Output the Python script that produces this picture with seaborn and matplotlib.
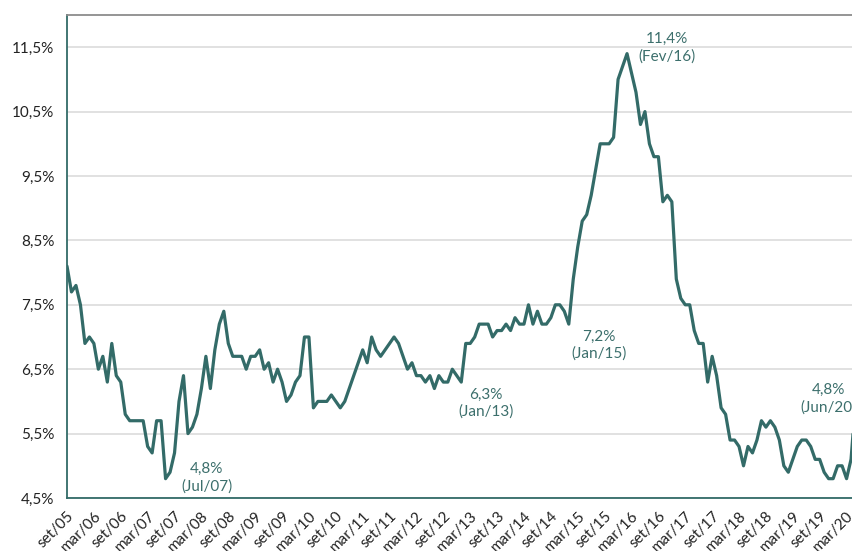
import numpy as np
import pandas as pd
import seaborn as sns
import matplotlib
matplotlib.use("Agg")
import matplotlib.pyplot as plt
from matplotlib.ticker import FuncFormatter

# monthly series, set/05 .. jun/20 (percent)
taxa = [
    8.1, 7.7, 7.8, 7.5, 6.9, 7.0, 6.9, 6.5, 6.7, 6.3,   # set/05 - jun/06
    6.9, 6.4, 6.3, 5.8, 5.7, 5.7, 5.7, 5.7, 5.3, 5.2,   # jul/06 - abr/07
    5.7, 5.7, 4.8, 4.9, 5.2, 6.0, 6.4, 5.5, 5.6, 5.8,   # mai/07 - fev/08
    6.2, 6.7, 6.2, 6.8, 7.2, 7.4, 6.9, 6.7, 6.7, 6.7,   # mar/08 - dez/08
    6.5, 6.7, 6.7, 6.8, 6.5, 6.6, 6.3, 6.5, 6.3, 6.0,   # jan/09 - out/09
    6.1, 6.3, 6.4, 7.0, 7.0, 5.9, 6.0, 6.0, 6.0, 6.1,   # nov/09 - ago/10
    6.0, 5.9, 6.0, 6.2, 6.4, 6.6, 6.8, 6.6, 7.0, 6.8,   # set/10 - jun/11
    6.7, 6.8, 6.9, 7.0, 6.9, 6.7, 6.5, 6.6, 6.4, 6.4,   # jul/11 - abr/12
    6.3, 6.4, 6.2, 6.4, 6.3, 6.3, 6.5, 6.4, 6.3, 6.9,   # mai/12 - fev/13
    6.9, 7.0, 7.2, 7.2, 7.2, 7.0, 7.1, 7.1, 7.2, 7.1,   # mar/13 - dez/13
    7.3, 7.2, 7.2, 7.5, 7.2, 7.4, 7.2, 7.2, 7.3, 7.5,   # jan/14 - out/14
    7.5, 7.4, 7.2, 7.9, 8.4, 8.8, 8.9, 9.2, 9.6, 10.0,  # nov/14 - ago/15
    10.0, 10.0, 10.1, 11.0, 11.2, 11.4, 11.1, 10.8, 10.3, 10.5,  # set/15 - jun/16
    10.0, 9.8, 9.8, 9.1, 9.2, 9.1, 7.9, 7.6, 7.5, 7.5,  # jul/16 - abr/17
    7.1, 6.9, 6.9, 6.3, 6.7, 6.4, 5.9, 5.8, 5.4, 5.4,   # mai/17 - fev/18
    5.3, 5.0, 5.3, 5.2, 5.4, 5.7, 5.6, 5.7, 5.6, 5.4,   # mar/18 - dez/18
    5.0, 4.9, 5.1, 5.3, 5.4, 5.4, 5.3, 5.1, 5.1, 4.9,   # jan/19 - out/19
    4.8, 4.8, 5.0, 5.0, 4.8, 5.1, 6.0, 4.8,             # nov/19 - jun/20
]
tick_labels = [
    "set/05", "mar/06", "set/06", "mar/07", "set/07", "mar/08", "set/08",
    "mar/09", "set/09", "mar/10", "set/10", "mar/11", "set/11", "mar/12",
    "set/12", "mar/13", "set/13", "mar/14", "set/14", "mar/15", "set/15",
    "mar/16", "set/16", "mar/17", "set/17", "mar/18", "set/18", "mar/19",
    "set/19", "mar/20",
]

destaques = [  # (month index, label, offset in px)
    (22, "4,8%\n(Jul/07)", (41, 1)),
    (88, "6,3%\n(Jan/13)", (25, -21)),
    (112, "7,2%\n(Jan/15)", (30, -21)),
    (125, "11,4%\n(Fev/16)", (40, 6)),
    (177, "4,8%\n(Jun/20)", (-32, 80)),
]

df = pd.DataFrame({"mes": np.arange(len(taxa)), "taxa": taxa})

sns.set_style("white")
plt.rcParams["font.family"] = ["Lato", "DejaVu Sans"]

cor = "#336B68"
fig = plt.figure(figsize=(8.52, 5.51), dpi=100)
# plot area runs past the right edge, like the cropped original
ax = fig.add_axes([67 / 852, 53 / 551, 793 / 852, 483 / 551])

sns.lineplot(data=df, x="mes", y="taxa", ax=ax, color=cor, linewidth=2.3)

ax.set_xlim(0, 177)
ax.set_ylim(4.5, 12.0)
ax.set_yticks(np.arange(4.5, 12.0, 1.0))
ax.yaxis.set_major_formatter(FuncFormatter(lambda v, p: f"{v:.1f}%".replace(".", ",")))
ax.set_xticks(np.arange(len(tick_labels)) * 6)
ax.set_xticklabels(tick_labels, rotation=45, ha="right", rotation_mode="anchor")
ax.set_xlabel("")
ax.set_ylabel("")

ax.grid(axis="y", color="#D9D9D9", linewidth=1.1)
ax.set_axisbelow(True)
for s in ["left", "bottom"]:
    ax.spines[s].set_color(cor)
    ax.spines[s].set_linewidth(1.3)
ax.spines["top"].set_color("#8C8C8C")
ax.spines["top"].set_linewidth(1.3)
ax.spines["right"].set_visible(False)
ax.tick_params(axis="x", colors=cor, length=5, width=1.3, labelsize=11, labelcolor="#222222", pad=3)
ax.tick_params(axis="y", colors=cor, length=5, width=1.0, labelsize=11, labelcolor="#222222", pad=4)

for i, txt, off in destaques:
    ax.annotate(txt, xy=(i, taxa[i]), xytext=off, textcoords="offset pixels",
                ha="center", va="center", fontsize=11, color="#3C6F6C",
                linespacing=1.25, annotation_clip=False)

fig.savefig("out.png", dpi=100)
